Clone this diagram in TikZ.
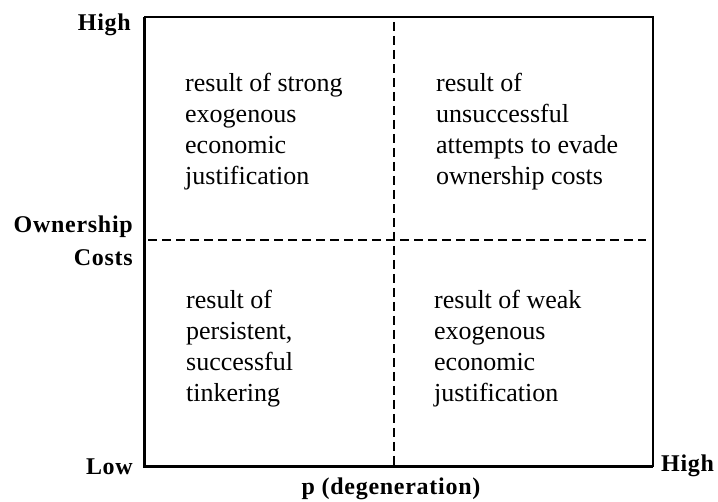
\documentclass[tikz,border=0pt]{standalone}
\usepackage{fontspec}
\setmainfont{Liberation Serif}
\usetikzlibrary{positioning}

\tikzset{
    cell/.style={anchor=base west,align=left,inner sep=0pt,
        font=\fontsize{26}{31}\selectfont},
    axislabel/.style={inner sep=0pt,
        font=\fontsize{24}{28}\selectfont\bfseries\addfontfeature{LetterSpace=3}},
    divider/.style={line width=2pt,dash pattern=on 9pt off 5pt}
}

\begin{document}
\begin{tikzpicture}[x=1pt,y=-1pt]
    \useasboundingbox (0,0) rectangle (718,502);

    % frame corners
    \coordinate (tl) at (144,17);
    \coordinate (tr) at (653,17);
    \coordinate (bl) at (144,467);
    \coordinate (br) at (653,467);

    % frame: axes heavier than the other two sides
    \draw[line width=2pt] (tl) -- (tr) -- (br);
    \draw[line width=3pt] (tl) -- (bl) -- (br);

    % quadrant dividers
    \coordinate (vtop) at (394,22);
    \coordinate (vbot) at (394,465);
    \coordinate (hleft) at (148,240);
    \coordinate (hright) at (646,240);
    \draw[divider] (vtop) -- (vbot);
    \draw[divider] (hleft) -- (hright);

    % quadrant texts (base = last line)
    \node[cell] (ul) at (185,185) {result of strong\\exogenous\\economic\\justification};
    \node[cell] (ur) at (436,185) {result of\\unsuccessful\\attempts to evade\\ownership costs};
    \node[cell] (ll) at (186,402) {result of\\persistent,\\successful\\tinkering};
    \node[cell] (lr) at (434,402) {result of weak\\exogenous\\economic\\justification};

    % axis labels
    \node[axislabel,anchor=base east] (yhigh) at (131,31) {High};
    \node[axislabel,anchor=base east] (ycost) at (133,233) {Ownership};
    \node[axislabel,anchor=base east] (ycost2) at (133,266) {Costs};
    \node[axislabel,anchor=base east] (low) at (133,475) {Low};
    \node[axislabel,anchor=base west] (xhigh) at (661,472) {High};
    \node[axislabel,anchor=base] (xlabel) at (391,495) {p (degeneration)};

\end{tikzpicture}
\end{document}
